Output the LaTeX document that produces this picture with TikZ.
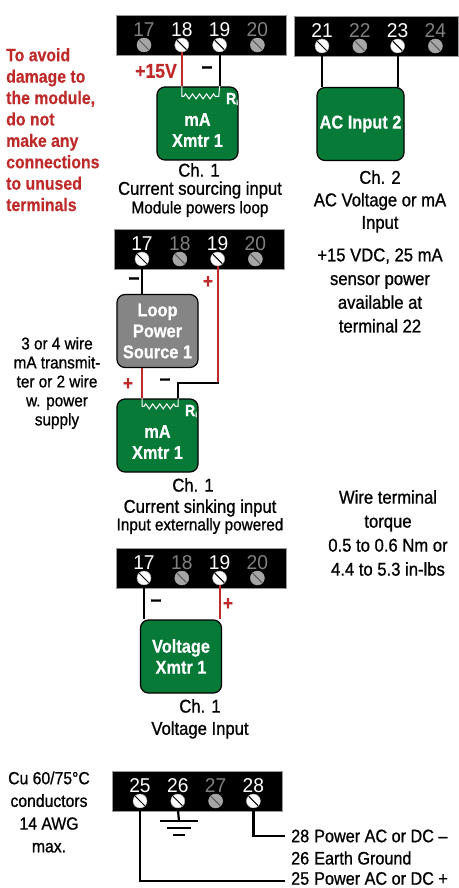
\documentclass[tikz,border=0pt]{standalone}
\usepackage{fontspec}
\setmainfont[FakeStretch=0.9,FakeBold=0.9,BoldFeatures={FakeStretch=0.88,FakeBold=0.4}]{Liberation Sans}
\newfontfamily\numfont[FakeStretch=0.96]{Liberation Sans}
\usetikzlibrary{decorations.pathmorphing}

\definecolor{wirered}{HTML}{BE2A2A}
\definecolor{xmtrgreen}{HTML}{067A36}
\definecolor{loopgray}{HTML}{858585}

\tikzset{
	blockbar/.style={fill=black, draw=black!40, line width=0.4pt, anchor=north west, minimum height=40pt, inner sep=0pt},
	screwon/.style={circle, fill=white, draw=black!35, line width=0.5pt, minimum size=14pt, inner sep=0pt,
		path picture={\draw[black, line width=1pt] (path picture bounding box.north west) -- (path picture bounding box.south east);}},
	screwoff/.style={screwon, fill=black!35,
		path picture={\draw[black!65, line width=1pt] (path picture bounding box.north west) -- (path picture bounding box.south east);}},
	numon/.style={text=white, font=\numfont\fontsize{20}{20}\selectfont, inner sep=0pt},
	numoff/.style={numon, text=black!50},
	xmtr/.style={draw=black, line width=1.2pt, fill=xmtrgreen, rounded corners=8pt, minimum width=81pt, minimum height=73pt,
		inner sep=0pt, text=white, align=center, font=\fontsize{18.6}{21}\bfseries\selectfont},
	loopbox/.style={xmtr, fill=loopgray},
	blk/.style={draw=black, line width=2.2pt},
	red/.style={draw=wirered, line width=2.2pt},
	caption/.style={align=center, inner sep=0pt, font=\fontsize{18.5}{22.5}\selectfont},
	small/.style={align=center, inner sep=0pt, font=\fontsize{17}{19}\selectfont},
	warn/.style={align=left, anchor=north west, inner sep=0pt, text=wirered, font=\fontsize{18}{21.4}\bfseries\selectfont},
	sign/.style={inner sep=0pt, font=\fontsize{22}{22}\bfseries\selectfont},
	rsign/.style={sign, font=\fontsize{20}{20}\bfseries\selectfont, text=wirered},
	reswire/.style={draw=white, line width=1pt},
	zigres/.style={decoration={zigzag, segment length=7pt, amplitude=2.5pt, pre length=2pt, post length=2pt}},
	rlabel/.style={text=white, inner sep=0pt, font=\fontsize{16}{16}\bfseries\selectfont},
	power/.style={anchor=west, inner sep=0pt, font=\fontsize{18}{18}\selectfont},
}

\newcommand{\termblock}[5]{
	\node[blockbar, minimum width=#4] (#1) at (#2,#3) {};
	\foreach \tnum/\tstate [count=\ti from 0] in {#5} {
		\pgfmathsetmacro{\tx}{#2+28+37.8*\ti}
		\pgfmathsetmacro{\tlab}{#3+14.5}
		\pgfmathsetmacro{\tscr}{#3+30}
		\node[num\tstate] (#1n\tnum) at (\tx,\tlab) {\tnum};
		\node[screw\tstate] (#1s\tnum) at (\tx,\tscr) {};
	}
}

\begin{document}
\begin{tikzpicture}[x=1pt,y=-1pt]
\useasboundingbox (0,0) rectangle (458,888);

\termblock{ba}{116}{15}{170pt}{17/off,18/on,19/on,20/off}
\termblock{bb}{294}{16}{164pt}{21/on,22/off,23/on,24/off}
\termblock{bc}{114}{229}{170pt}{17/on,18/off,19/on,20/off}
\termblock{bd}{116}{548}{170pt}{17/on,18/off,19/on,20/off}
\termblock{be}{112}{771}{170pt}{25/on,26/on,27/off,28/on}

% ch 1 sourcing
\node[xmtr] (xa) at (197.5,123.5) {\\[5pt]mA\\Xmtr 1};
\draw[red] (bas18.south) -- (bas18 |- xa.north);
\draw[blk] (bas19.south) -- (bas19 |- xa.north);
\draw[reswire] (bas18 |- xa.north) -- ++(0,10) decorate[zigres]{-- ++(37,0)} -- (bas19 |- xa.north);
\node[rlabel] (ra) at (232,99) {R\raisebox{-1pt}{\fontsize{7}{7}\selectfont i}};
\node[rsign, anchor=east] (vp) at (177,71) {+15V};
\node[sign] (ma) at (207,70) {--};
\node[caption] (cha) at (199,170) {Ch. 1};
\node[caption] (cua) at (200,190) {Current sourcing input};
\node[small] (moa) at (200,209) {Module powers loop};

% ch 2
\node[xmtr, minimum width=87pt] (xb) at (360.5,124) {AC Input 2};
\draw[blk] (bbs21.south) -- (bbs21 |- xb.north);
\draw[blk] (bbs23.south) -- (bbs23 |- xb.north);
\node[caption] (chb) at (380,201.5) {Ch. 2\\AC Voltage or mA\\Input};
\node[caption, font=\fontsize{18.5}{23.7}\selectfont] (sen) at (380,290.5) {+15 VDC, 25 mA\\sensor power\\available at\\terminal 22};

% ch 1 sinking
\node[loopbox] (lp) at (157.5,331) {Loop\\Power\\Source 1};
\node[xmtr] (xc) at (157.5,435.5) {\\[5pt]mA\\Xmtr 1};
\coordinate (jn) at (178,383);
\draw[blk] (bcs17.south) -- (bcs17 |- lp.north);
\draw[red] (bcs19.south) -- (bcs19 |- jn);
\draw[red] (lp.south -| bcs17) -- (xc.north -| bcs17);
\draw[blk, line cap=rect] (bcs19 |- jn) -- (jn) -- (jn |- xc.north);
\draw[reswire] (xc.north -| bcs17) -- ++(0,8) decorate[zigres]{-- ++(36,0)} -- (jn |- xc.north);
\node[rlabel] (rc) at (191,411) {R\raisebox{-1pt}{\fontsize{7}{7}\selectfont i}};
\node[sign] (mc) at (134,281) {--};
\node[rsign] (pc) at (208,282) {+};
\node[rsign] (pd) at (128,384) {+};
\node[sign] (md) at (165,382) {--};
\node[caption] (chc) at (193,485) {Ch. 1};
\node[caption] (cuc) at (200,508) {Current sinking input};
\node[small] (inc) at (200,526) {Input externally powered};

% voltage
\node[xmtr] (xd) at (181,656.5) {Voltage\\Xmtr 1};
\draw[blk] (bds17.south) -- (bds17 |- xd.north);
\draw[red] (bds19.south) -- (bds19 |- xd.north);
\node[sign] (me) at (156,603) {--};
\node[rsign] (pe) at (228,604) {+};
\node[caption] (chd) at (200,706) {Ch. 1};
\node[caption] (vin) at (200,730) {Voltage Input};

% power
\node[power] (pa) at (291,836) {28\hspace{5pt}Power AC or DC --};
\node[power] (pb) at (291,858) {26\hspace{5pt}Earth Ground};
\node[power] (pf) at (291,878.5) {25\hspace{5pt}Power AC or DC +};
\draw[blk] (bes25.south) |- ([xshift=-6pt,yshift=-2.5pt]pf.west);
\draw[blk] (bes28.south) |- ([xshift=-6pt]pa.west);
\coordinate (gnd) at (179,821);
\draw[blk] (bes26.south) -- (gnd);
\draw[blk] ([xshift=-19pt]gnd) -- ([xshift=19pt]gnd);
\draw[blk] ([xshift=-12pt,yshift=-7pt]gnd) -- ([xshift=12pt,yshift=-7pt]gnd);
\draw[blk] ([xshift=-6pt,yshift=-14pt]gnd) -- ([xshift=6pt,yshift=-14pt]gnd);

% side notes
\node[warn] (wn) at (6,48) {To avoid\\damage to\\the module,\\do not\\make any\\connections\\to unused\\terminals};
\node[small] (tr) at (57,383) {3 or 4 wire\\mA transmit-\\ter or 2 wire\\w. power\\supply};
\node[caption, font=\fontsize{18.5}{24}\selectfont] (wt) at (388,533) {Wire terminal\\torque\\0.5 to 0.6 Nm or\\4.4 to 5.3 in-lbs};
\node[small, font=\fontsize{17.5}{22.7}\selectfont] (cu) at (49,812) {Cu 60/75°C\\conductors\\14 AWG\\max.};
\end{tikzpicture}
\end{document}
